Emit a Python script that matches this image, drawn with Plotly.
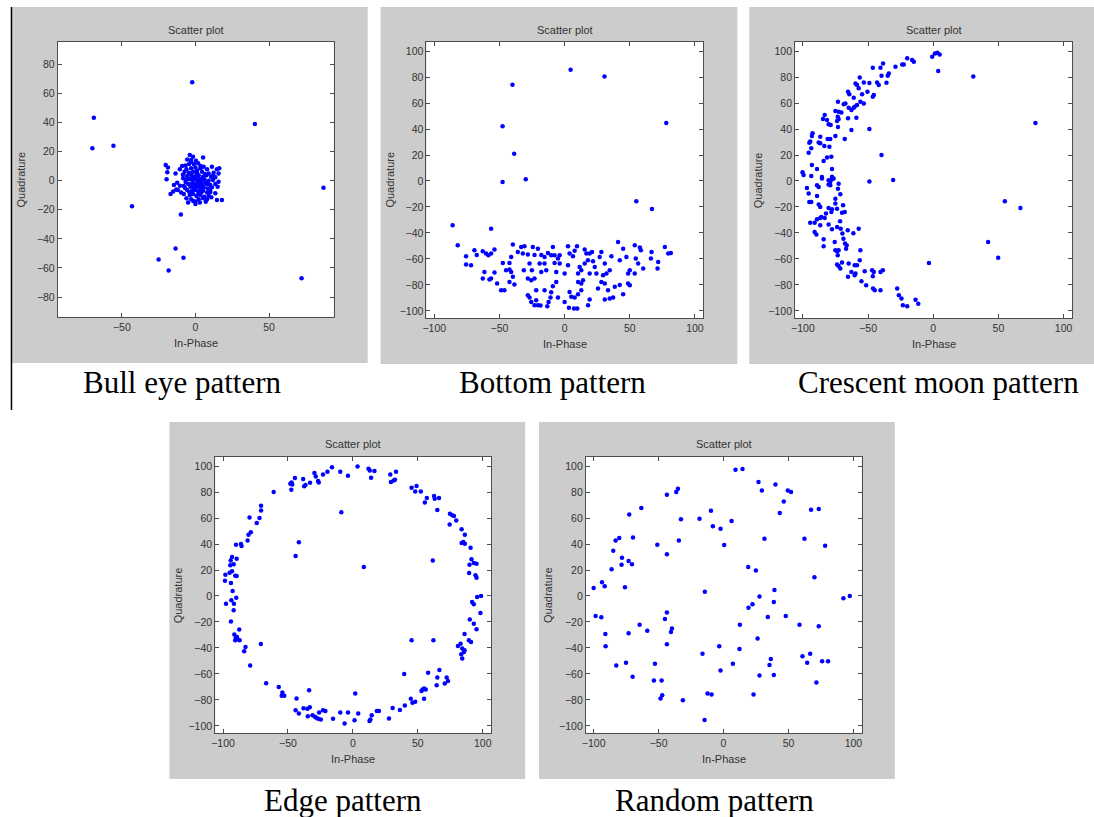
import plotly.graph_objects as go

W, H = 1094, 817

# ---------------- data ----------------
bull_eye_pts = [
    (-2.2, 67.7), (-69, 43.2), (-70, 22.2), (-55.7, 24), (40.4, 39), (87, -4.8),
    (-43.1, -17.6), (-9.9, -23.3), (-13.5, -46.6), (-8.1, -53), (-25, -54.2),
    (-18.2, -61.7), (72.1, -67),
    (-3.8, 17.6), (-1.6, 16.5), (5.2, 16.0), (-5.6, 14.6), (-2.9, 14.2), (0.4, 13.7),
    (1.8, 11.9), (-1.1, 11.4), (-4.3, 11.4), (-6.7, 10.5), (-9.0, 10.1), (-20.2, 10.7),
    (-18.7, 9.1), (11.2, 9.6), (14.6, 7.8), (16.2, 8.5), (-10.6, 7.8), (-6.1, 7.8),
    (-2.9, 8.5), (0, 9.1), (3.4, 8.5), (5.6, 9.6), (7.9, 7.8), (-19.1, 5.7), (-13.5, 5.0),
    (-7.4, 6.2), (-4.5, 5.5), (-1.6, 6.2), (1.1, 5.5), (4.5, 6.2), (9.0, 5.0), (12.4, 5.5),
    (15.7, 5.0), (-5.6, 3.2), (-2.9, 3.9), (-0.7, 2.7), (2.2, 3.7), (5.2, 2.7), (7.4, 3.7),
    (10.6, 2.7), (13.5, 2.3), (-8.3, 1.6), (-19.6, 0.9), (-3.8, 0.9), (-1.6, 0.5),
    (0.7, 0.9), (3.4, 0), (6.1, 0.9), (9.0, 0), (11.9, 0.5), (15.7, -0.7), (-12.4, -1.4),
    (-6.7, -0.9), (-4.9, -2.3), (-2.2, -1.8), (0, -2.3), (2.2, -1.8), (4.5, -3.0),
    (7.4, -2.3), (10.1, -3.0), (13.5, -2.3), (-14.6, -3.0), (-7.9, -3.7), (-3.4, -4.1),
    (-1.1, -4.6), (1.1, -4.1), (3.4, -5.3), (5.6, -4.6), (8.3, -5.3), (11.2, -4.6),
    (15.1, -4.1), (-11.9, -6.4), (-5.6, -6.4), (-2.2, -6.9), (0, -6.4), (2.2, -7.5),
    (5.2, -6.9), (7.9, -8.2), (10.1, -6.9), (13.5, -8.7), (-15.1, -7.5), (-16.9, -9.1),
    (-9.7, -8.2), (-7.9, -9.1), (-3.8, -9.8), (-1.6, -9.1), (0.7, -10.5), (3.4, -9.8),
    (6.1, -11.0), (9.0, -10.5), (14.6, -13.3), (18.0, -13.3), (-6.1, -12.1), (-2.9, -12.8),
    (0, -14.4), (2.2, -12.8), (5.2, -12.1), (7.9, -12.8), (0, -16.0), (10.8, -11.4),
    (0.5, 3.5), (2.8, 1.2), (4.0, -1.0), (1.5, -0.8), (-0.5, -3.5), (3.0, -3.3), (6.8, -1.2),
    (5.0, 1.5), (-2.5, 2.0), (-1.0, -6.0), (2.0, -9.0), (4.0, -8.0), (-3.0, 5.0), (-4.0, -8.0),
    (6.5, 4.5), (8.5, -2.0), (-6.0, 1.0), (-7.0, -5.0), (1.0, 7.0), (3.5, 10.0), (-8.5, 4.0),
    (10.0, -8.0), (12.0, 3.5), (-10.5, -3.5), (-3.0, 13.0), (-13.0, -6.0), (7.0, -14.5),
    (-1.5, -14.0), (-5.0, -15.0), (3.0, -15.0),
]

bottom_pts = [
    (4.6, 85.6), (30.6, 80.5), (-40, 74.1), (-47.6, 42.1), (-38.7, 21), (-47.6, -0.8),
    (-29.8, 1.3), (78, 44.6), (55, -15.6), (67, -21.5), (-85.9, -34.1), (-56.4, -36.7),
    (-82, -49.5), (-75.6, -57.9), (-75.6, -64.4), (-71.8, -64.9), (-69.2, -53.3),
    (-67.4, -56.9), (-62.8, -54.1), (-60.3, -55.9), (-56.4, -55.9), (-53.8, -52.8),
    (-58.5, -57.2), (-61.5, -70), (-53.8, -70.5), (-62.8, -75.1), (-57.7, -75.9),
    (-56.4, -75.1), (-51.8, -79), (-48.7, -84.1), (-46.2, -84.1), (-47.4, -63.1),
    (-39.7, -49), (-41, -58.5), (-42.3, -63.1), (-42.3, -68.2), (-44.9, -68.7), (-41, -70),
    (-39.7, -73.8), (-42.3, -77.7), (-38.5, -79.7), (-35.9, -54.6), (-33.3, -50.8),
    (-32.1, -55.9), (-30.8, -50.3), (-28.2, -56.7), (-31.3, -68.7), (-26.9, -63.6),
    (-24.4, -50.8), (-20.5, -52.1), (-23.1, -56.9), (-17.9, -56.9), (-19.2, -63.6),
    (-15.4, -63.6), (-25.1, -68.7), (-23.1, -75.1), (-25.6, -76.4), (-17.9, -70),
    (-15.4, -58.5), (-9, -50.8), (-12.8, -55.4), (-10.3, -57.2), (-7.7, -57.2),
    (-5.1, -59.7), (-7.7, -63.1), (-3.8, -63.6), (2.6, -50.3), (3.8, -55.9), (7.7, -53.8),
    (9.5, -50.3), (6.4, -57.9), (2.6, -64.9), (0, -71.3), (-6.4, -70), (-6.4, -77.7),
    (-9, -81), (-10.3, -85.6), (-15.4, -84.1), (-21.8, -84.1), (-28.2, -87.9),
    (-26.9, -89.7), (-21.8, -91.8), (-25.6, -93.1), (-23.1, -95.6), (-20.5, -95.6),
    (-18.5, -95.9), (-13.3, -96.4), (-12.3, -93.1), (-10.8, -89.7), (-5.1, -89.7),
    (0, -93.1), (3.3, -97.7), (7.2, -98.2), (9.7, -98.2), (5.1, -89.2), (3.8, -85.4),
    (7.7, -89.7), (10.3, -87.2), (12.8, -84.1), (18, -95.6), (19.2, -91.3), (12.8, -79),
    (10.3, -77.7), (14.1, -76.4), (10.3, -71.3), (12.8, -68.7), (11.5, -66.2),
    (15.4, -63.6), (17.9, -61), (16.7, -55.9), (19.2, -55.9), (21, -54.6), (15.4, -52.8),
    (21.8, -61.8), (23.1, -66.2), (19.2, -71.3), (24.4, -71.3), (28.2, -54.6),
    (26.9, -58.5), (30.8, -63.6), (35.9, -57.9), (34.6, -68.7), (32.1, -71.3),
    (29.5, -72.6), (28.2, -77.7), (30.8, -79), (33.3, -84.1), (25.6, -82.8), (30.8, -91.3),
    (34.6, -90.5), (37.2, -89.7), (38.5, -81.5), (41, -46.9), (44.9, -52.1), (47.4, -58.5),
    (42.3, -61), (50, -68.7), (48.7, -71.3), (53.8, -71.3), (42.3, -80), (44.9, -87.2),
    (48.7, -79), (50, -80.3), (53.8, -49.5), (57.7, -51.3), (58.5, -53.3), (54.6, -59.7),
    (56.4, -63.6), (60.3, -67.4), (66.7, -54.6), (66.2, -59.7), (71.8, -62.3),
    (71.3, -67.4), (76.9, -50.8), (79.5, -55.9), (81.5, -55.4), (-3.8, -57.2),
    (-14.1, -68.7), (-28.2, -75.1),
]

crescent_pts = [
    (-0.8, 95.6), (1.3, 98.2), (3.1, 98.7), (4.9, 97.4), (3.8, 84.6), (-16.2, 93.1),
    (-14.9, 91.8), (-20, 94.4), (-23.8, 89.7), (-22.6, 89.7), (-29, 87.9), (-34.1, 82.8),
    (-34.9, 81), (-38.5, 90.5), (-40.5, 87.2), (-46.4, 87.2), (-39.7, 81), (-35.9, 75.6),
    (-41.8, 73.8), (-43.1, 75.9), (-49, 75.4), (-56.4, 79.7), (-53.3, 75.9), (-59.7, 75.1),
    (-58.5, 73.8), (-57.2, 71.3), (-54.6, 66.7), (-50.5, 68.7), (-45.6, 66.2),
    (-46.4, 64.9), (-65.4, 68.7), (-64.4, 66.7), (-61, 64.1), (-55.9, 61), (-53.3, 59.7),
    (-58.5, 58.5), (-60.3, 57.2), (-61, 56.4), (-62.8, 54.6), (-64.9, 56.4), (-67.4, 59.7),
    (-68.7, 59), (-73.1, 61), (-72.6, 53.3), (-75.1, 53.8), (-70.5, 52.8), (-73.3, 49.5),
    (-72.6, 47.7), (-73.8, 46.2), (-83.3, 50.8), (-84.6, 47.7), (-81.5, 46.9),
    (-80.3, 43.6), (-78.7, 43.1), (-65.4, 48.2), (-59, 48.7), (-62.8, 39.2), (-49, 40),
    (-73.1, 41.5), (-75.1, 34.6), (-67.9, 32.3), (-81, 32.3), (-79, 32.3), (-86.7, 34.1),
    (-92.6, 36.7), (-93.1, 34.6), (-94.4, 30.3), (-95.1, 29.5), (-87.9, 29.7), (-86.7, 29),
    (-83.6, 26.9), (-79.7, 26.4), (-93.6, 25.1), (-95.6, 21.8), (-39.7, 20), (-78.2, 18.7),
    (-81.5, 18), (-84.1, 15.4), (-93.1, 12.3), (-89.2, 9.2), (-77.7, 9.2), (-100.3, 6.7),
    (-99.5, 4.6), (-93.6, 3.8), (-85.4, 2), (-77.7, 3.3), (-76.4, 2), (-49, -0.5),
    (-30.8, 0.8),
    (-96.9, -5.4), (-95.6, -9.7), (-95.1, -16.2), (-93.6, -16.2), (-89.2, -3.3),
    (-87.9, -4.6), (-89.2, -11.5), (-85.4, 3.1), (-80.3, 0.5), (-79, -0.8), (-77.7, 1.3),
    (-80.3, -2.8), (-79, -3.3), (-72.6, -2.1), (-73.1, -5.9), (-71.3, -10.3),
    (-75.1, -13.6), (-87.9, -18.2), (-86.7, -20), (-80.3, -20.8), (-77.7, -21.8),
    (-78.2, -23.8), (-75.1, -17.4), (-73.8, -21.3), (-69.2, -18.7), (-67.9, -23.8),
    (-70, -24.4), (-82.3, -25.1), (-85.9, -27.7), (-83.3, -28.5), (-86.7, -28.5),
    (-89.2, -29.5), (-91, -32.1), (-94.4, -32.1), (-86.7, -34.1), (-80.3, -33.6),
    (-91, -39.2), (-89.7, -41.3), (-77.7, -37.2), (-73.8, -35.4), (-71.5, -31),
    (-71, -36.7), (-69.7, -40.5), (-68.9, -44.4), (-65.6, -37.9), (-57.2, -36.7),
    (-75.6, -46.9), (-84.1, -44.9), (-84.1, -50.3), (-67.7, -48.2), (-66.4, -49.5),
    (-66.9, -52.1), (-72.6, -53.3), (-73.8, -54.1), (-75.1, -53.3), (-73.3, -57.2),
    (-73.8, -64.4), (-72.6, -65.4), (-71.3, -67.4), (-70, -62.8), (-64.9, -63.6),
    (-61.3, -40.3), (-55.9, -53.3), (-56.4, -61), (-62.8, -70), (-65.4, -73.8),
    (-60.3, -64.9), (-58.5, -64.9), (-59.7, -71.3), (-60.3, -72.6), (-55.1, -77.2),
    (-51.5, -80.3), (-52.6, -69.5), (-46.9, -68.7), (-45.6, -70), (-46.4, -73.3),
    (-40.5, -70), (-38.7, -68.7), (-46.2, -82.8), (-44.9, -84.1), (-40.5, -84.1),
    (-27.7, -82.8), (-26.4, -87.9), (-24.4, -90.5), (-23.3, -95.6), (-20, -96.4),
    (-13.6, -91.5), (-11.5, -94.6), (-3.3, -63.1),
    (30.7, 80.5), (78.4, 44.6), (54.9, -15.6), (66.9, -20.8), (42.1, -46.9), (49.8, -59.2),
]

edge_pts = [
    (-16.1, 99.2), (-9.7, 95.6), (-3.8, 92.6), (-19.6, 95.6), (-23, 93.6), (-26.8, 88.5),
    (-29.6, 94.6), (-28.6, 92), (-33, 87.2), (-36.5, 85.4), (-37.5, 84.4), (-38.3, 90),
    (-44.6, 90.8), (-47.2, 87.4), (-48.2, 86.4), (-46.7, 85.9), (-47.4, 81.8), (-26.3, 87.4),
    (-61, 80), (-8.9, 64.4), (-70.7, 69.5), (-70.7, 65.9), (-71.9, 60), (-74, 56.2),
    (-79.6, 60.5), (-78.6, 49), (-80.4, 47.2), (-81.1, 42.8), (-86.2, 40), (-85.7, 38.5),
    (-90, 39.5), (-41.6, 41.3), (-44.1, 30.8), (-93.1, 30), (-94.1, 27.4), (-89.5, 28.7),
    (-91.8, 24.4), (-94.4, 23.6), (-93.1, 19), (-94.9, 17.9), (-98.2, 16.4), (-90.6, 15.6),
    (-89.5, 15.4), (-98.5, 11.8), (-93.9, 10), (-92.6, 3.8), (-93.6, -3.3), (-89.8, -1.3),
    (-91.6, -5.9), (-97.7, -5.9), (-91.8, -11), (-93.9, -19.7), (-87.5, -25.9),
    (-91.3, -29.7), (-90.1, -32), (-88.8, -33.3), (-90.6, -34.1), (-87.2, -34.1),
    (-89.3, -31.5), (-70.9, -36.9), (-82.7, -39.2), (-83.7, -42.6), (-79.1, -53.6),
    (-66.8, -67.2), (-57.1, -70), (-54.3, -74.4), (-54.8, -76.9), (-52.8, -76.9),
    (-43.4, -79), (-33.7, -72.6), (-44.1, -87.9), (-41.6, -90.5), (-38, -86.4),
    (-35, -86.9), (-33.2, -85.6), (-34.7, -92.6), (-31.1, -91.8), (-29.3, -93),
    (-28.1, -93.8), (-26.8, -94.6), (-24.7, -95.1), (-23, -87.9), (-21.2, -88.5),
    (-26, -89.7), (-15.3, -94.6), (-9.7, -89.7), (-6.4, -98.2), (-3.8, -89.7),
    (3.6, 99.7), (12, 97.9), (13, 96.7), (16.6, 96.2), (14, 91), (28.8, 93.6), (33.2, 95.6),
    (29.3, 87.7), (31.4, 89), (32.4, 89.5), (45.2, 83.3), (49, 84.6), (48, 80.5),
    (52.3, 80.5), (56.9, 75.4), (55.4, 72), (62.5, 76.9), (63, 74.9), (66.3, 75.4),
    (65, 66.2), (74.7, 63.3), (76.5, 62.1), (77.8, 61.5), (79.6, 58.2), (74.5, 55.1),
    (83.7, 51.3), (86.2, 47.2), (83.7, 40.8), (85, 41.5), (86.2, 40.3), (90.6, 37.2),
    (61.5, 27.4), (8.4, 22.3), (91.3, 28.2), (89.8, 24.1), (93.1, 25.4), (95.2, 24.9),
    (89.5, 17.7), (94.4, 15.9), (95.2, 14.1), (95.7, -0.8), (98.7, 0), (91.8, -4.6),
    (93.1, -6.4), (98.2, -13.1), (90, -18.2), (93.1, -21.3), (95.2, -25.6), (86, -29.2),
    (89.3, -34.1), (91, -35.4), (45.2, -34.1), (62, -34.1), (80.9, -38.5), (82.9, -36.7),
    (84.2, -40.5), (85.5, -43.1), (83.4, -44.9), (84.2, -48.2), (86, -41.8), (39.5, -60),
    (57.9, -59.2), (66.6, -56.9), (65, -62.8), (72.2, -62.8), (73.2, -65.4), (70.7, -67.4),
    (64.5, -68.7), (53.6, -72), (54.8, -71.3), (56.1, -72), (52.8, -73.1), (54.8, -79.2),
    (44.6, -79.2), (45.9, -82.3), (48, -81.5), (40, -84.4), (36.2, -87.7), (30.6, -86.2),
    (27.8, -94.4), (18.4, -88.5), (20, -88.5), (14.5, -91.8), (13.5, -95.1), (12.8, -96.2),
    (4.1, -90.5), (1.3, -95.6), (1.8, -75.1),
]

random_pts = [
    (9.2, 97.2), (14.6, 97.7), (26.9, 87.7), (29.5, 81.3), (40, 85.9), (49.5, 81.3),
    (52, 80), (46.4, 72.8), (43.3, 63.8), (67.4, 66.4), (73.3, 66.9), (-43.6, 77.9),
    (-36.4, 80), (-35.1, 82.6), (-63.3, 67.7), (-72.6, 62.8), (-32.8, 59), (-18.5, 59.5),
    (-9.7, 65.6), (-8.2, 53.6), (-2.3, 51.8), (6.2, 57.7), (0.5, 39.2), (31.5, 44.1),
    (62.3, 44.1), (78.2, 38.7), (-83.1, 42.8), (-80.3, 44.6), (-69.7, 45.1), (-84.9, 34.9),
    (-51, 39.5), (-34.4, 42.8), (-43.6, 32.1), (-78.2, 29.5), (-73.1, 26.9), (-78.5, 24.1),
    (-70.5, 24.4), (-86.2, 20.5), (-93.6, 10.5), (-91.5, 7.4), (-100, 6.2), (-75.9, 6.7),
    (19, 22.3), (24.9, 19.7), (70, 14.4), (-14.4, 3.3), (39.2, 4.6), (27.7, -0.5),
    (38.7, -4.6), (22.3, -6.4), (19.2, -9), (92.3, -1.8), (97.2, 0), (-98.5, -15.4),
    (-94.1, -16.4), (34.1, -16.2), (47.9, -15.4), (-43.6, -12.8), (-45.1, -17.7),
    (-64.6, -22.1), (-58.7, -26.7), (-39.7, -25.1), (-40.5, -27.7), (12.6, -22.1),
    (58.5, -22.1), (73.3, -23.3), (-91, -29.2), (-73.1, -28.7), (26.2, -32.8),
    (-90.8, -38.7), (-43.6, -37.2), (-3.3, -38.7), (12.3, -40.8), (-16.2, -44.4),
    (36.4, -48.5), (35.4, -53.1), (60.8, -46.4), (66.7, -44.4), (64.4, -51.5),
    (75.9, -50.3), (80.5, -50.3), (-82.6, -53.6), (-75.1, -51.5), (-52.8, -52.1),
    (7.2, -52.1), (-70, -62.1), (-53.6, -65.1), (-47.7, -65.1), (-2.3, -57.4),
    (27.7, -61.3), (38.7, -60.8), (71.5, -66.7), (-48.5, -79), (-47.2, -76.4),
    (-31.3, -80.3), (-12.3, -75.1), (-9.2, -75.9), (23.1, -75.9), (-14.6, -95.4),
]

captions = ["Bull eye pattern", "Bottom pattern", "Crescent moon pattern",
            "Edge pattern", "Random pattern"]
x_ticks_small = [-50, 0, 50]
y_ticks_small = [-80, -60, -40, -20, 0, 20, 40, 60, 80]
x_ticks_big = [-100, -50, 0, 50, 100]
y_ticks_big = [-100, -80, -60, -40, -20, 0, 20, 40, 60, 80, 100]

# ---------------- layout geometry (pixels) ----------------
panels = [
    dict(pts=bull_eye_pts, plot=(54, 331, 42, 317), box=(8, 365, 7, 363),
         xr=[-93.5, 94], yr=[-93.7, 95.3], xt=x_ticks_small, yt=y_ticks_small, cap=(178.5, 382)),
    dict(pts=bottom_pts, plot=(424, 702, 42, 318), box=(378, 736, 7, 364),
         xr=[-106, 106.5], yr=[-105.5, 107], xt=x_ticks_big, yt=y_ticks_big, cap=(551, 382)),
    dict(pts=crescent_pts, plot=(794, 1072, 42, 318), box=(748, 1094, 7, 364),
         xr=[-106, 106.5], yr=[-105.5, 107], xt=x_ticks_big, yt=y_ticks_big, cap=(938, 382)),
    dict(pts=edge_pts, plot=(212, 489, 457, 733), box=(166, 523, 422, 779),
         xr=[-106, 106.5], yr=[-105.5, 107], xt=x_ticks_big, yt=y_ticks_big, cap=(340, 800)),
    dict(pts=random_pts, plot=(584, 861, 457, 733), box=(537, 894, 422, 779),
         xr=[-106, 106.5], yr=[-105.5, 107], xt=x_ticks_big, yt=y_ticks_big, cap=(713, 800)),
]


def px(x):
    return x / W


def py(y):
    return 1 - y / H


fig = go.Figure()
shapes = []
annotations = []
axis_color = "#4d4d4d"
text_color = "#333333"
sans = "Liberation Sans, Arial, sans-serif"
serif = "Liberation Serif, Times New Roman, serif"

for i, p in enumerate(panels, start=1):
    xs = [q[0] for q in p["pts"]]
    ys = [q[1] for q in p["pts"]]
    xa = "x" if i == 1 else f"x{i}"
    ya = "y" if i == 1 else f"y{i}"
    fig.add_trace(go.Scatter(x=xs, y=ys, mode="markers", xaxis=xa, yaxis=ya,
                             marker=dict(color="#0000FF", size=4.5, line=dict(width=0)),
                             hoverinfo="skip", showlegend=False))
    l, r, t, b = p["plot"]
    common = dict(showgrid=False, zeroline=False, showline=True, linecolor=axis_color,
                  linewidth=1, mirror="ticks", ticks="inside", ticklen=4,
                  tickcolor=axis_color, tickwidth=1, fixedrange=True,
                  tickfont=dict(family=sans, size=10.5, color=text_color))
    fig.layout[f"xaxis{i}"] = dict(domain=[px(l), px(r)], range=p["xr"], tickvals=p["xt"],
                                   anchor=ya, **common)
    fig.layout[f"yaxis{i}"] = dict(domain=[py(b), py(t)], range=p["yr"], tickvals=p["yt"],
                                   anchor=xa, **common)
    bl, br, bt, bb = p["box"]
    shapes.append(dict(type="rect", xref="paper", yref="paper", x0=px(bl), x1=px(br),
                       y0=py(bb), y1=py(bt), fillcolor="#cccccc", line=dict(width=0),
                       layer="below"))
    shapes.append(dict(type="rect", xref="paper", yref="paper", x0=px(l), x1=px(r),
                       y0=py(b), y1=py(t), fillcolor="#ffffff", line=dict(width=0),
                       layer="below"))
    cx = (l + r) / 2
    annotations.append(dict(text="Scatter plot", x=px(cx), y=py(29.5 + (t - 42)),
                            xref="paper", yref="paper", showarrow=False,
                            xanchor="center", yanchor="middle",
                            font=dict(family=sans, size=11, color=text_color)))
    annotations.append(dict(text="In-Phase", x=px(cx), y=py(b + 25.5),
                            xref="paper", yref="paper", showarrow=False,
                            xanchor="center", yanchor="middle",
                            font=dict(family=sans, size=11, color=text_color)))
    annotations.append(dict(text="Quadrature", x=px(bl + 9), y=py((t + b) / 2),
                            xref="paper", yref="paper", showarrow=False, textangle=-90,
                            xanchor="center", yanchor="middle",
                            font=dict(family=sans, size=11, color=text_color)))
    cxp, cyp = p["cap"]
    annotations.append(dict(text=captions[i - 1], x=px(cxp), y=py(cyp),
                            xref="paper", yref="paper", showarrow=False,
                            xanchor="center", yanchor="middle",
                            font=dict(family=serif, size=31, color="#000000")))

# thin black rule on the left edge of the top row
shapes.append(dict(type="line", xref="paper", yref="paper", x0=px(7.5), x1=px(7.5),
                   y0=py(7), y1=py(410), line=dict(color="#000000", width=1.5)))

fig.update_layout(width=W, height=H, margin=dict(l=0, r=0, t=0, b=0),
                  paper_bgcolor="#ffffff", plot_bgcolor="#ffffff",
                  shapes=shapes, annotations=annotations, showlegend=False,
                  hovermode=False)

fig.write_html("out.html", config={"displayModeBar": False, "staticPlot": True},
               post_script="document.body.style.margin='0';document.body.style.overflow='hidden';")
